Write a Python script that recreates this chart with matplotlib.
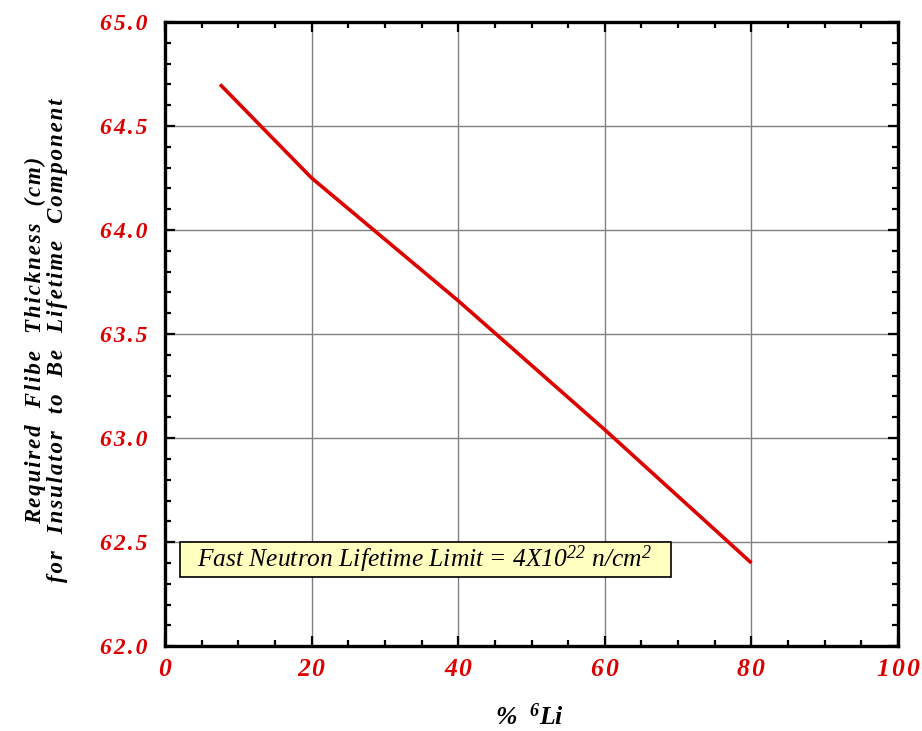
"""flibe thickness vs 6Li enrichment."""
import matplotlib
matplotlib.use('Agg')
import matplotlib.pyplot as plt
from matplotlib.patches import Rectangle
from matplotlib.ticker import MultipleLocator

li6_pct = [7.5, 20, 40, 60, 80]
thickness_cm = [64.70, 64.25, 63.66, 63.04, 62.40]

xticks = [0, 20, 40, 60, 80, 100]
yticks = [62.0, 62.5, 63.0, 63.5, 64.0, 64.5, 65.0]

plt.rcParams['font.family'] = ['Liberation Serif', 'DejaVu Serif']
plt.rcParams['mathtext.fontset'] = 'custom'
plt.rcParams['mathtext.rm'] = 'Liberation Serif:italic'
plt.rcParams['mathtext.it'] = 'Liberation Serif:italic'
plt.rcParams['mathtext.bf'] = 'Liberation Serif:bold:italic'

red = '#dd0000'
HAIR = '\u200a'


def spaced(s, sep=HAIR):
    # the original uses wide letter tracking
    return sep.join(s)


fig = plt.figure(figsize=(9.22, 7.31), dpi=100)
ax = fig.add_axes([0.179, 0.116, 0.795, 0.854])

ax.plot(li6_pct, thickness_cm, color=red, lw=2.6, solid_capstyle='butt', zorder=3)

ax.set_xlim(0, 100)
ax.set_ylim(62.0, 65.0)
ax.set_xticks(xticks)
ax.set_yticks(yticks)
ax.set_xticklabels([spaced(str(v)) for v in xticks], fontsize=18.5,
                   fontweight='bold', fontstyle='italic', color=red)
ax.set_yticklabels([spaced('%.1f' % v) for v in yticks], fontsize=17,
                   fontweight='bold', fontstyle='italic', color=red)
ax.xaxis.set_minor_locator(MultipleLocator(5))
ax.yaxis.set_minor_locator(MultipleLocator(0.1))
ax.grid(True, which='major', color='#808080', lw=1.0)

for s in ax.spines.values():
    s.set_linewidth(2.4)
ax.tick_params(which='both', direction='in', top=True, right=True, width=1.6)
ax.tick_params(which='major', length=7)
ax.tick_params(which='minor', length=4)
ax.tick_params(axis='y', which='major', pad=12.5)
ax.tick_params(axis='x', which='major', pad=8.5)

ax.set_xlabel(r'%  $\mathbf{^{6}}$Li', fontsize=18.5, fontweight='bold', fontstyle='italic')
ax.xaxis.set_label_coords(0.497, -0.091)

ylab1 = spaced('Required  Flibe  Thickness  (cm)')
ylab2 = spaced('for  Insulator  to  Be  Lifetime  Component')
ax.set_ylabel(ylab1 + '\n' + ylab2, fontsize=16.5, fontweight='bold',
              fontstyle='italic', linespacing=1.05)
ax.yaxis.set_label_coords(-0.133, 0.49)

# note box
ax.add_patch(Rectangle((2.05, 62.332), 66.95, 0.168, fc='#ffffc0', ec='black', lw=1.2, zorder=4))
ax.text(4.4, 62.416, r'Fast Neutron Lifetime Limit = 4X10$^{22}$ n/cm$^{2}$',
        fontsize=18.4, fontstyle='italic', va='center', ha='left', zorder=5)

fig.savefig('out.png', dpi=100)
